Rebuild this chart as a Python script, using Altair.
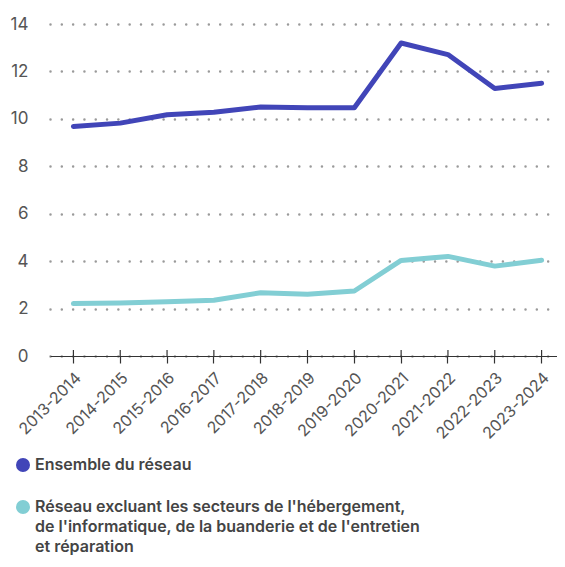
import altair as alt
import pandas as pd

years = ["2013-2014", "2014-2015", "2015-2016", "2016-2017", "2017-2018", "2018-2019",
         "2019-2020", "2020-2021", "2021-2022", "2022-2023", "2023-2024"]
ensemble = [9.68, 9.82, 10.17, 10.28, 10.5, 10.47, 10.47, 13.2, 12.71, 11.28, 11.5]
excluant = [2.21, 2.24, 2.29, 2.35, 2.67, 2.6, 2.74, 4.03, 4.2, 3.79, 4.04]
series_names = [
    "Ensemble du réseau",
    "Réseau excluant les secteurs de l'hébergement,\nde l'informatique, de la buanderie et de l'entretien\net réparation",
]
colors = ["#4145b8", "#82ced4"]

rows = []
for y, v in zip(years, ensemble):
    rows.append({"annee": y, "valeur": v, "serie": series_names[0]})
for y, v in zip(years, excluant):
    rows.append({"annee": y, "valeur": v, "serie": series_names[1]})
df = pd.DataFrame(rows)
ticks_df = pd.DataFrame({"annee": years})

FONT = "Inter"
W, H = 507, 332
XRANGE = 515

x_scale = alt.Scale(type="band", paddingInner=0, paddingOuter=0, range=[0, XRANGE])

x_enc = alt.X("annee:N", sort=years, scale=x_scale,
              axis=alt.Axis(title=None, labelAngle=-45, labelAlign="right", labelBaseline="middle",
                            labelFontSize=16, labelColor="#555", labelFont=FONT, labelPadding=12,
                            labelOffset=5,
                            domainColor="#333", domainWidth=1.2, tickColor="#333", tickSize=7,
                            tickWidth=1.2, grid=False))

lines = alt.Chart(df).mark_line(strokeWidth=5, strokeCap="round", strokeJoin="round").encode(
    x=x_enc,
    y=alt.Y("valeur:Q", scale=alt.Scale(domain=[0, 14], nice=False),
            axis=alt.Axis(title=None, values=[0, 2, 4, 6, 8, 10, 12, 14], domain=False, ticks=False,
                          labelFontSize=17, labelColor="#555", labelFont=FONT, labelPadding=22,
                          gridColor="#9a9a9a", gridWidth=2.5, gridCap="round", gridDash=[0.01, 11.3])),
    color=alt.Color("serie:N", sort=series_names,
                    scale=alt.Scale(domain=series_names, range=colors),
                    legend=alt.Legend(title=None, orient="none", legendX=-35, legendY=433,
                                      direction="vertical", symbolType="circle", symbolSize=49,
                                      symbolStrokeWidth=7, labelFont=FONT, labelFontSize=16,
                                      labelFontWeight=600, labelColor="#444", labelLimit=600,
                                      labelOffset=4, rowPadding=6, labelBaseline="top",
                                      labelExpr="split(datum.label, '\\n')")),
)

upticks = alt.Chart(ticks_df).mark_rule(color="#333", strokeWidth=1.2).encode(
    x=alt.X("annee:N", sort=years, scale=x_scale),
    y=alt.value(H),
    y2=alt.value(H - 6),
)

chart = alt.layer(lines, upticks).properties(
    width=W, height=H,
    autosize=alt.AutoSizeParams(type="none"),
    padding={"left": 42, "top": 16, "right": 0, "bottom": 202},
).configure_view(stroke=None)

patch = [
    {"op": "add", "path": "/legends/0/encode/labels/update/lineHeight", "value": {"value": 20}},
    {"op": "add", "path": "/legends/0/encode/labels/update/dy", "value": {"value": -8}},
]
chart.save("out.html", embed_options={"renderer": "svg", "actions": False, "patch": patch})
